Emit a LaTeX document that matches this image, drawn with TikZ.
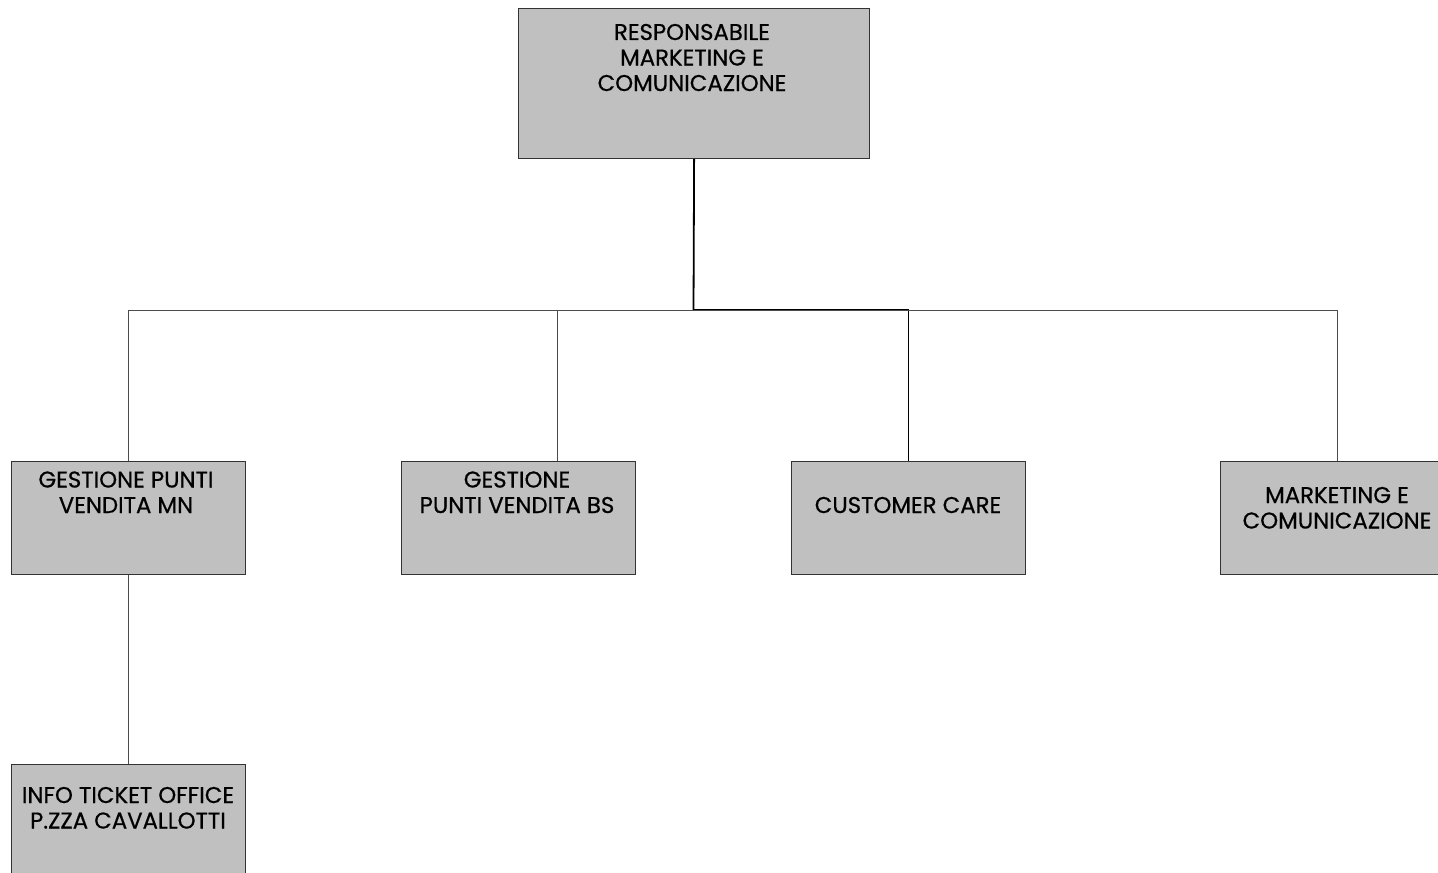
\documentclass[tikz,border=0pt]{standalone}
\usepackage{fontspec}
\setmainfont{Poppins}[FakeBold=0.6]
\begin{document}
\begin{tikzpicture}[x=0.5pt,y=-0.5pt,
  box/.style={draw=black!80,line width=0.6pt,fill=boxgray,inner sep=0pt,minimum width=117pt,minimum height=56.5pt,anchor=north west},
  lbl/.style={font=\fontsize{11.4pt}{12.75pt}\selectfont,align=center,inner sep=0pt,anchor=base},
  link/.style={draw=black!70,line width=0.5pt},
  mainlink/.style={draw=black,line width=0.9pt}]
\definecolor{boxgray}{HTML}{C0C0C0}
\useasboundingbox (0,0) rectangle (1438,872);
\begin{scope}
\clip (0,0) rectangle (1438,872);
\node[box,minimum width=175.5pt,minimum height=75pt] (top) at (518,8) {};
\node[box] (mn) at (11,461) {};
\node[box] (bs) at (401,461) {};
\node[box] (cc) at (791,461) {};
\node[box] (mk) at (1220,461) {};
\node[box] (info) at (11,764) {};
\end{scope}
\node[lbl] (ttop) at (692,91) {RESPONSABILE\\MARKETING E\\COMUNICAZIONE};
\node[lbl] (tmn) at (126,513) {GESTIONE PUNTI\\VENDITA MN};
\node[lbl] (tbs) at (517,513) {GESTIONE\\PUNTI VENDITA BS};
\node[lbl] (tcc) at (908,513) {CUSTOMER CARE};
\node[lbl] (tmk) at (1337,528.5) {MARKETING E\\COMUNICAZIONE};
\node[lbl] (tinfo) at (128,828.5) {INFO TICKET OFFICE\\P.ZZA CAVALLOTTI};
\coordinate (j) at (693.5,310);
\draw[mainlink] (top.south) -- (j);
\draw[link] (j) -| (mn.north);
\draw[link] (j) -| ([xshift=19.5pt]bs.north);
\draw[mainlink,line width=0.7pt] (j) -| (cc.north);
\draw[link] (j) -| (1337,461);
\draw[link] (mn.south) -- (info.north);
\end{tikzpicture}
\end{document}
